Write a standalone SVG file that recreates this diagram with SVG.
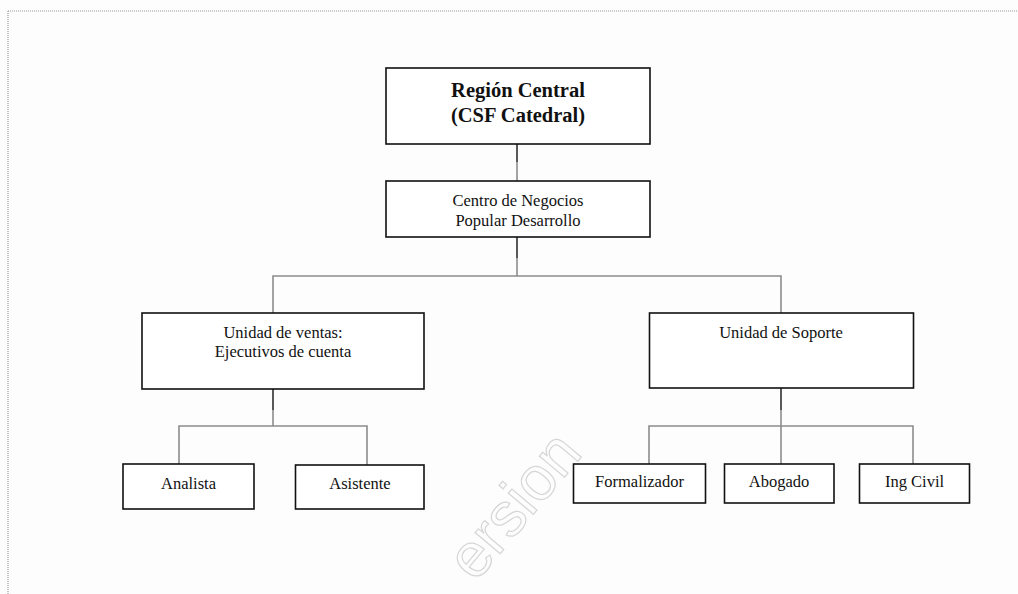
<svg xmlns="http://www.w3.org/2000/svg" width="1018" height="594" viewBox="0 0 1018 594">
<style>
.box{fill:#fff;stroke:#111;stroke-width:1.6}
.t{font-family:"Liberation Serif","Times New Roman",serif;font-size:16.5px;fill:#111;text-anchor:middle}
.b{font-weight:bold;font-size:20.5px}
.dark{stroke:#222;stroke-width:1.5;fill:none}
.grey{stroke:#8c8c8c;stroke-width:1.6;fill:none}
.frame{stroke:#9a9a9a;stroke-width:1.2;stroke-dasharray:1 1;fill:none}
.wm{font-family:"Liberation Sans",Arial,sans-serif;font-size:62px;fill:none;stroke:#d6d6d6;stroke-width:1.2}
</style>
<rect width="1018" height="594" fill="#fdfdfd"/>
<path class="frame" d="M8 11H1018M8 11V594"/>
<text class="wm" x="584" y="454" text-anchor="end" transform="rotate(-50 584 454)">ersion</text>
<g id="connectors">
<path class="dark" d="M517 144V162"/>
<path class="grey" d="M517 162V181"/>
<path class="dark" d="M517 237V258"/>
<path class="grey" d="M517 258V276"/>
<path class="grey" d="M273 313V276H781V313"/>
<path class="dark" d="M273 389V410"/>
<path class="grey" d="M273 410V426"/>
<path class="grey" d="M179 464V426H367V465"/>
<path class="dark" d="M781 388V410"/>
<path class="grey" d="M781 410V464"/>
<path class="grey" d="M649 464V426H913V464"/>
</g>
<g id="region-central">
<rect class="box" x="386" y="68" width="264" height="76"/>
<text class="t b" x="518" y="97">Región Central</text>
<text class="t b" x="518" y="122">(CSF Catedral)</text>
</g>
<g id="centro-negocios">
<rect class="box" x="386" y="181" width="264" height="56"/>
<text class="t" x="518" y="206">Centro de Negocios</text>
<text class="t" x="518" y="225.5">Popular Desarrollo</text>
</g>
<g id="unidad-ventas">
<rect class="box" x="142" y="313" width="282" height="76"/>
<text class="t" x="283" y="338">Unidad de ventas:</text>
<text class="t" x="283" y="357">Ejecutivos de cuenta</text>
</g>
<g id="unidad-soporte">
<rect class="box" x="649.5" y="313" width="264" height="75"/>
<text class="t" x="781" y="338">Unidad de Soporte</text>
</g>
<g id="analista">
<rect class="box" x="123" y="464" width="131" height="45"/>
<text class="t" x="188.5" y="489">Analista</text>
</g>
<g id="asistente">
<rect class="box" x="295.5" y="465" width="128.5" height="44"/>
<text class="t" x="360" y="489">Asistente</text>
</g>
<g id="formalizador">
<rect class="box" x="573.5" y="464" width="132" height="39"/>
<text class="t" x="639.5" y="487">Formalizador</text>
</g>
<g id="abogado">
<rect class="box" x="724.5" y="464" width="109.5" height="39"/>
<text class="t" x="779" y="487">Abogado</text>
</g>
<g id="ing-civil">
<rect class="box" x="859.5" y="464" width="110" height="39"/>
<text class="t" x="914.5" y="487">Ing Civil</text>
</g>
</svg>
